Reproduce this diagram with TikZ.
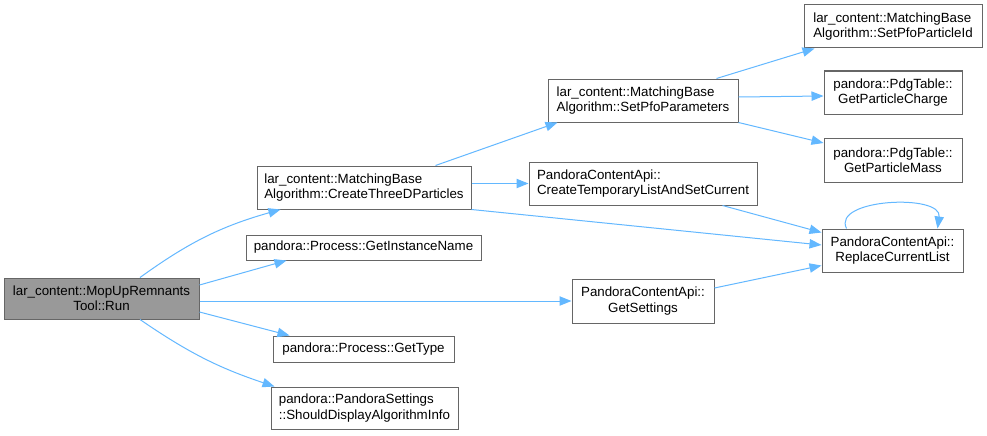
\documentclass[tikz,border=0pt]{standalone}
\usepackage{fontspec}
\setmainfont{Liberation Sans}
\usetikzlibrary{arrows.meta,calc}
\definecolor{edgeblue}{HTML}{63B8FF}
\definecolor{boxborder}{HTML}{666666}
\definecolor{curfill}{HTML}{999999}
\begin{document}
\begin{tikzpicture}[x=0.75pt,y=-0.75pt,
  fn/.style={draw=boxborder,line width=0.75pt,fill=white,inner sep=0pt,
    font=\fontsize{10pt}{11.5pt}\selectfont,text=black},
  cur/.style={fn,fill=curfill},
  edge/.style={draw=edgeblue,line width=0.75pt,
    -{Triangle[length=9pt,width=7pt]}}]
\useasboundingbox[fill=white] (0,0) rectangle (987,435);

\node[cur,minimum width=146.25pt,minimum height=30.75pt,align=center] (run) at (101.5,298.5) {lar\_content::MopUpRemnants\\Tool::Run};
\node[fn,minimum width=160.5pt,minimum height=32.25pt,align=left] (create3d) at (364,187.5) {lar\_content::MatchingBase\\Algorithm::CreateThreeDParticles};
\node[fn,minimum width=176.25pt,minimum height=18.75pt,align=center] (instname) at (363.5,247.5) {pandora::Process::GetInstanceName};
\node[fn,minimum width=135.75pt,minimum height=19.5pt,align=center] (gettype) at (363.5,349) {pandora::Process::GetType};
\node[fn,minimum width=140.25pt,minimum height=31.5pt,align=left] (showinfo) at (364.5,408) {pandora::PandoraSettings\\::ShouldDisplayAlgorithmInfo};
\node[fn,minimum width=142.5pt,minimum height=32.25pt,align=left] (setpfo) at (643,100.5) {lar\_content::MatchingBase\\Algorithm::SetPfoParameters};
\node[fn,minimum width=171pt,minimum height=32.25pt,align=left] (createtmp) at (643,183.5) {PandoraContentApi::\\CreateTemporaryListAndSetCurrent};
\node[fn,minimum width=106.5pt,minimum height=33pt,align=center] (getsettings) at (643,301) {PandoraContentApi::\\GetSettings};
\node[fn,minimum width=133.5pt,minimum height=32.25pt,align=left] (setpid) at (893,26.5) {lar\_content::MatchingBase\\Algorithm::SetPfoParticleId};
\node[fn,minimum width=103.5pt,minimum height=32.25pt,align=center] (charge) at (893,92.5) {pandora::PdgTable::\\GetParticleCharge};
\node[fn,minimum width=103.5pt,minimum height=33pt,align=center] (mass) at (893,160) {pandora::PdgTable::\\GetParticleMass};
\node[fn,minimum width=105.75pt,minimum height=32.25pt,align=center] (replace) at (892.5,250.5) {PandoraContentApi::\\ReplaceCurrentList};

% edges from Run
\draw[edge] ($(run.north)+(38.5,0)$) to[bend left=10] ($(create3d.south west)+(24,0)$);
\draw[edge] ($(run.east)+(0,-13.5)$) -- ($(instname.south west)+(41,0)$);
\draw[edge] (run.east |- getsettings.west) -- (getsettings.west);
\draw[edge] ($(run.east)+(0,13.5)$) -- ($(gettype.north west)+(17,0)$);
\draw[edge] ($(run.south)+(38.5,0)$) to[bend right=8] ($(showinfo.north west)+(4,0)$);

% edges from CreateThreeDParticles
\draw[edge] ($(create3d.north east)+(-36,0)$) -- ($(setpfo.south west)+(10,0)$);
\draw[edge] (create3d.east |- createtmp.west) -- (createtmp.west);
\draw[edge] (create3d.south east) -- ($(replace.west)+(0,-5.5)$);

% edges to ReplaceCurrentList
\draw[edge] ($(createtmp.south east)+(-35,0)$) -- ($(replace.north west)+(0,4)$);
\draw[edge] ($(getsettings.east)+(0,-13)$) -- ($(replace.south west)+(0,-7)$);

% edges from SetPfoParameters
\draw[edge] ($(setpfo.north east)+(-22,0)$) -- ($(setpid.south west)+(11,0)$);
\draw[edge] ($(setpfo.east)+(0,-3.5)$) -- ($(charge.west)+(0,3.5)$);
\draw[edge] (setpfo.south east) -- ($(mass.west)+(0,-17)$);

% self loop
\coordinate (la) at ($(replace.north west)+(25,0)$);
\coordinate (lb) at ($(replace.north east)+(-26,0)$);
\draw[edge] (la) .. controls ($(la)+(-15,-30)$) and ($(lb)+(5,-35)$) .. (lb);
\end{tikzpicture}
\end{document}
